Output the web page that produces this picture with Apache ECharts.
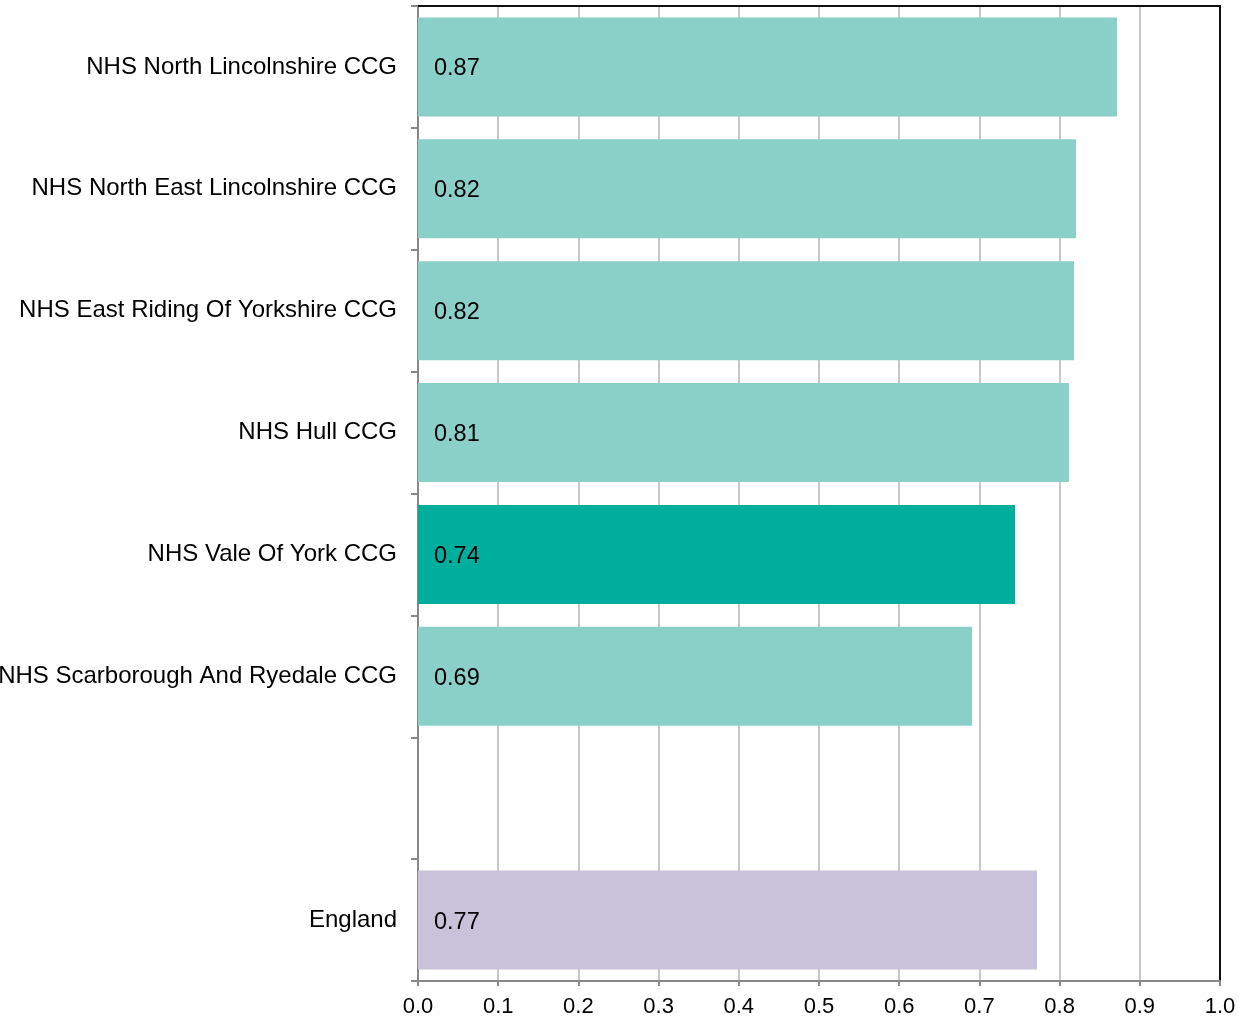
<!DOCTYPE html>
<html>
<head>
<meta charset="utf-8">
<script src="https://cdn.jsdelivr.net/npm/echarts@6/dist/echarts.min.js"></script>
<style>
html,body{margin:0;padding:0;background:#fff;}
#chart{width:1238px;height:1017px;}
</style>
</head>
<body>
<div id="chart"></div>
<script>
const categories = [
  'NHS North Lincolnshire CCG',
  'NHS North East Lincolnshire CCG',
  'NHS East Riding Of Yorkshire CCG',
  'NHS Hull CCG',
  'NHS Vale Of York CCG',
  'NHS Scarborough And Ryedale CCG',
  '',
  'England'
];
const values = [0.8716, 0.8204, 0.818, 0.8117, 0.7444, 0.6908, null, 0.7718];
const xTicks = [0, 0.1, 0.2, 0.3, 0.4, 0.5, 0.6, 0.7, 0.8, 0.9, 1.0];
const highlight = 'NHS Vale Of York CCG';
const benchmark = 'England';

const FONT = '"Liberation Sans", Arial, sans-serif';
const chart = echarts.init(document.getElementById('chart'), null, {renderer: 'canvas'});

const data = values.map((v, i) => {
  const name = categories[i];
  let color = '#8ad0c9';
  if (name === highlight) color = '#00ae9e';
  if (name === benchmark) color = '#cac1da';
  return {value: v, itemStyle: {color: color}};
});

chart.setOption({
  animation: false,
  grid: {left: 418, right: 18, top: 6, bottom: 36, containLabel: false, outerBoundsMode: 'none'},
  xAxis: [{
    type: 'value', min: xTicks[0], max: xTicks[xTicks.length - 1], interval: 0.1,
    axisLine: {show: true, onZero: false, lineStyle: {color: '#888', width: 2}},
    axisTick: {show: true, length: 5, lineStyle: {color: '#888', width: 2}},
    splitLine: {show: true, lineStyle: {color: '#c8c8c8', width: 2}},
    axisLabel: {
      margin: 15, color: '#000', fontSize: 22, fontFamily: FONT,
      formatter: v => v.toFixed(1),
      showMinLabel: true, showMaxLabel: true
    }
  }, {
    type: 'value', min: xTicks[0], max: xTicks[xTicks.length - 1], interval: 0.1, position: 'top',
    axisLine: {show: true, onZero: false, lineStyle: {color: '#111', width: 2}},
    axisTick: {show: false}, axisLabel: {show: false}, splitLine: {show: false}
  }],
  yAxis: [{
    type: 'category', data: categories, inverse: true,
    axisLine: {show: true, onZero: false, lineStyle: {color: '#888', width: 2}},
    axisTick: {show: true, length: 7, lineStyle: {color: '#888', width: 2}},
    axisLabel: {margin: 21, color: '#000', fontSize: 24, fontFamily: FONT, interval: 0, padding: [4, 0, 0, 0]},
    splitLine: {show: false}
  }, {
    type: 'category', data: categories, inverse: true, position: 'right',
    axisLine: {show: true, onZero: false, lineStyle: {color: '#111', width: 2}},
    axisTick: {show: false}, axisLabel: {show: false}, splitLine: {show: false}
  }],
  series: [{
    type: 'bar', xAxisIndex: 0, yAxisIndex: 0,
    data: data,
    barCategoryGap: '18.8%',
    label: {
      show: true, position: 'insideLeft', distance: 16, offset: [0, 2],
      color: '#000', fontSize: 23.5, fontFamily: FONT,
      formatter: p => (p.value == null ? '' : p.value.toFixed(2))
    }
  }]
});
</script>
</body>
</html>
